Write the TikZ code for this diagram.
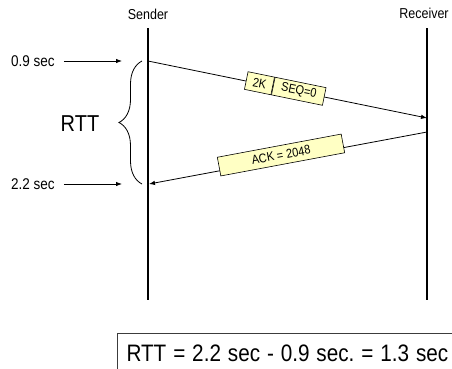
\documentclass[tikz,border=0pt]{standalone}
\usepackage{fontspec}
\setmainfont{Liberation Sans}
\usepackage{tikz}
\usetikzlibrary{arrows.meta,decorations.pathreplacing}

\definecolor{pktyellow}{RGB}{255,255,196}
\definecolor{boxgrey}{RGB}{60,60,60}
\newcommand{\tall}[1]{\scalebox{1}[1.15]{#1}}
\frenchspacing

\begin{document}
\begin{tikzpicture}[x=1pt, y=-1pt,
    life/.style={line width=1.2pt},
    msg/.style={line width=0.8pt, -{Latex[length=6pt,width=4.5pt]}},
    pkt/.style={draw, fill=pktyellow, line width=0.6pt, minimum height=18pt, inner sep=0pt, font=\fontsize{11}{13}\selectfont},
    tlabel/.style={font=\fontsize{13.5}{16}\selectfont, inner sep=0pt}
]
\useasboundingbox (0,0) rectangle (452,368);

% hosts
\node[font=\fontsize{12.5}{15}\selectfont] (sender) at (148,14) {\tall{Sender}};
\node[font=\fontsize{12.5}{15}\selectfont] (receiver) at (424,13) {\tall{Receiver}};
\coordinate (s0) at (148,28);
\coordinate (s9) at (148,300);
\coordinate (r0) at (427,28);
\coordinate (r9) at (427,300);
\draw[life] (s0) -- (s9);
\draw[life] (r0) -- (r9);

% messages
\coordinate (s1) at (148,61);
\coordinate (r1) at (427,118);
\coordinate (r2) at (427,132);
\coordinate (s2) at (149,184);
\draw[msg] (s1) -- (r1);
\draw[msg] (r2) -- (s2);

\node[pkt, rotate=-11.55, anchor=east, minimum width=27pt] (k2) at (273,86) {\tall{2K}};
\node[pkt, rotate=-11.55, anchor=west, minimum width=52pt] (seq) at (k2.east) {\tall{SEQ=0}};
\node[pkt, rotate=10.6, minimum width=126pt, minimum height=19pt] (ack) at (281,155) {\tall{ACK = 2048}};

% times
\node[tlabel] (t1) at (33,61) {\tall{0.9 sec}};
\node[tlabel] (t2) at (33,184) {\tall{2.2 sec}};
\coordinate (a1) at (122,61);
\coordinate (a2) at (122,184);
\draw[msg] ([xshift=9pt]t1.east) -- (a1);
\draw[msg] ([xshift=9pt]t2.east) -- (a2);

% round trip
\draw[line width=0.8pt, decorate, decoration={brace, amplitude=23pt}] (142,184) -- (142,61);
\node[font=\fontsize{20}{24}\selectfont] (rtt) at (80,124) {\tall{RTT}};

\node[draw=boxgrey, line width=1pt, anchor=north west, text width=340pt, minimum height=40pt, inner xsep=9pt, align=left, font=\fontsize{20.7}{24}\selectfont] (result) at (117,333) {\tall{RTT = 2.2 sec - 0.9 sec. = 1.3 sec}};
\end{tikzpicture}
\end{document}
